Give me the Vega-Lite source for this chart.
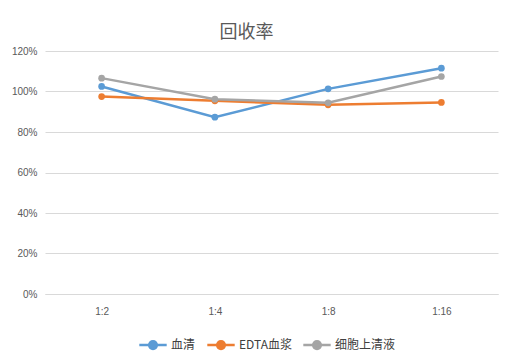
{
  "$schema": "https://vega.github.io/schema/vega-lite/v6.json",
  "width": 453,
  "height": 243,
  "autosize": "none",
  "padding": {"left": 45, "top": 51, "right": 15, "bottom": 64},
  "background": "white",
  "title": {
    "text": "回收率",
    "font": "Noto Sans CJK SC",
    "fontSize": 18,
    "fontWeight": "normal",
    "color": "#595959",
    "anchor": "middle",
    "dx": -25,
    "offset": 4
  },
  "data": {
    "values": [
      {"ratio": "1:2", "series": "血清", "value": 1.025},
      {"ratio": "1:4", "series": "血清", "value": 0.873},
      {"ratio": "1:8", "series": "血清", "value": 1.013},
      {"ratio": "1:16", "series": "血清", "value": 1.115},
      {"ratio": "1:2", "series": "EDTA血浆", "value": 0.975},
      {"ratio": "1:4", "series": "EDTA血浆", "value": 0.954},
      {"ratio": "1:8", "series": "EDTA血浆", "value": 0.934},
      {"ratio": "1:16", "series": "EDTA血浆", "value": 0.946},
      {"ratio": "1:2", "series": "细胞上清液", "value": 1.066},
      {"ratio": "1:4", "series": "细胞上清液", "value": 0.962},
      {"ratio": "1:8", "series": "细胞上清液", "value": 0.944},
      {"ratio": "1:16", "series": "细胞上清液", "value": 1.074}
    ]
  },
  "mark": {"type": "line", "strokeWidth": 2.5, "point": {"size": 45, "filled": true, "opacity": 1}},
  "encoding": {
    "x": {
      "field": "ratio",
      "type": "nominal",
      "sort": ["1:2", "1:4", "1:8", "1:16"],
      "title": null,
      "axis": {
        "labelAngle": 0,
        "ticks": false,
        "domainColor": "#D9D9D9",
        "labelColor": "#595959",
        "labelFont": "Liberation Sans",
        "labelFontSize": 10,
        "labelPadding": 12
      }
    },
    "y": {
      "field": "value",
      "type": "quantitative",
      "scale": {"domain": [0, 1.2]},
      "title": null,
      "axis": {
        "values": [0, 0.2, 0.4, 0.6, 0.8, 1.0, 1.2],
        "format": ".0%",
        "domain": false,
        "ticks": false,
        "gridColor": "#D9D9D9",
        "labelColor": "#595959",
        "labelFont": "Liberation Sans",
        "labelFontSize": 10,
        "labelPadding": 8
      }
    },
    "color": {
      "field": "series",
      "type": "nominal",
      "scale": {"domain": ["血清", "EDTA血浆", "细胞上清液"], "range": ["#5B9BD5", "#ED7D31", "#A5A5A5"]},
      "legend": {
        "title": null,
        "orient": "none",
        "legendX": 93,
        "legendY": 279,
        "direction": "horizontal",
        "labelFont": "Noto Sans CJK SC",
        "labelFontSize": 12,
        "labelColor": "#404040",
        "symbolType": "M -1 0 L 1 0 M -0.28 0 A 0.28 0.28 0 1 0 0.28 0 A 0.28 0.28 0 1 0 -0.28 0",
        "symbolSize": 750,
        "symbolStrokeWidth": 2.5,
        "columnPadding": 6,
        "labelOffset": 3
      }
    }
  },
  "config": {
    "view": {"stroke": null}
  }
}
